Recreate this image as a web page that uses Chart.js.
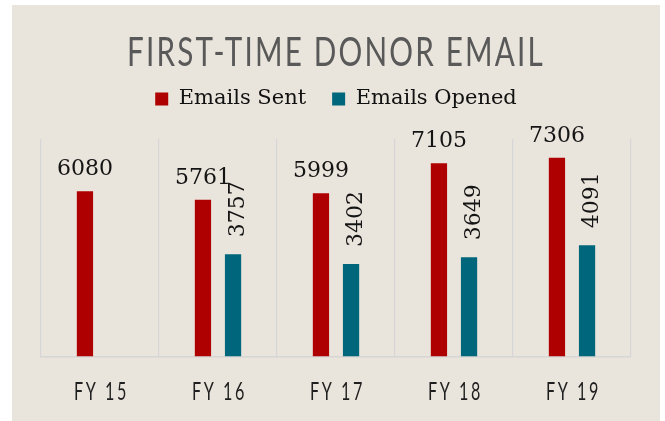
<!DOCTYPE html>
<html>
<head>
<meta charset="utf-8">
<script src="https://cdn.jsdelivr.net/npm/chart.js@4"></script>
<style>
  body { margin: 0; background: #ffffff; }
  #panel { position: absolute; left: 12px; top: 5px; width: 648px; height: 416px; background: #EAE5DC; overflow: hidden; }
</style>
</head>
<body>
<div id="panel"><canvas id="myChart" width="648" height="416"></canvas></div>
<script>
'use strict';

// data
let categories = ['FY 15', 'FY 16', 'FY 17', 'FY 18', 'FY 19'];
let emailsSent = [6080, 5761, 5999, 7105, 7306];
let emailsOpened = [null, 3757, 3402, 3649, 4091];
let seriesNames = ['Emails Sent', 'Emails Opened'];
let chartTitle = 'FIRST-TIME DONOR EMAIL';

let redColor = '#AE0000';
let tealColor = '#00667B';
let serif = '"DejaVu Serif", "Liberation Serif", serif';
let sans = 'Lato, "Open Sans", sans-serif';

// value labels above the bars (second series is turned on its side)
const barLabels = {
  id: 'barLabels',
  afterDatasetsDraw(chart) {
    const ctx = chart.ctx;
    ctx.save();
    ctx.font = '22px ' + serif;
    ctx.fillStyle = '#141414';
    ctx.textBaseline = 'alphabetic';
    chart.getDatasetMeta(0).data.forEach((bar, i) => {
      if (emailsSent[i] == null) return;
      ctx.textAlign = 'center';
      ctx.fillText(String(emailsSent[i]), bar.x, bar.y - 16);
    });
    chart.getDatasetMeta(1).data.forEach((bar, i) => {
      if (emailsOpened[i] == null) return;
      ctx.save();
      ctx.translate(bar.x + 11, bar.y - 17);
      ctx.rotate(-Math.PI / 2);
      ctx.textAlign = 'left';
      ctx.fillText(String(emailsOpened[i]), 0, 0);
      ctx.restore();
    });
    ctx.restore();
  }
};

// condensed, spaced title and category labels
const tweaks = {
  id: 'tweaks',
  afterLayout(chart) {
    const tb = chart.titleBlock;
    if (tb && !tb._spaced) {
      const orig = tb.draw.bind(tb);
      tb.draw = function () {
        const ctx = chart.ctx;
        ctx.save();
        ctx.letterSpacing = '3px';
        ctx.font = 'normal 41px ' + sans;
        const w = ctx.measureText(chartTitle).width;
        const s = 418 / w;
        const cx = (tb.left + tb.right) / 2;
        ctx.translate(cx, 0);
        ctx.scale(s, 1);
        ctx.translate(-cx, 0);
        orig();
        ctx.letterSpacing = '0px';
        ctx.restore();
      };
      tb._spaced = true;
    }
    const xs = chart.scales.x;
    if (xs && !xs._spaced) {
      xs.drawLabels = function () {
        const ctx = chart.ctx;
        ctx.save();
        ctx.font = '25px ' + sans;
        ctx.fillStyle = '#1f1f1f';
        ctx.letterSpacing = '4px';
        ctx.textAlign = 'center';
        ctx.textBaseline = 'middle';
        const s = 55 / ctx.measureText('FY 18').width;
        const y = chart.chartArea.bottom + 36;
        xs.ticks.forEach((t, i) => {
          const x = xs.getPixelForTick(i);
          ctx.save();
          ctx.translate(x + 1.5, y);
          ctx.scale(s, 1);
          ctx.fillText(xs.getLabelForValue(t.value), 0, 0);
          ctx.restore();
        });
        ctx.letterSpacing = '0px';
        ctx.restore();
      };
      xs._spaced = true;
    }
  }
};

// extra room between legend and plot
const legendRoom = {
  id: 'legendRoom',
  beforeInit(chart) {
    const lg = chart.legend;
    if (lg) {
      const origFit = lg.fit.bind(lg);
      lg.fit = function () {
        origFit();
        this.height += 19.5;
      };
    }
  }
};

const data = {
  labels: categories,
  datasets: [{
    label: seriesNames[0],
    data: emailsSent,
    backgroundColor: redColor,
    borderWidth: 0,
    categoryPercentage: 0.51,
    barPercentage: 0.54
  }, {
    label: seriesNames[1],
    data: emailsOpened,
    backgroundColor: tealColor,
    borderWidth: 0,
    categoryPercentage: 0.51,
    barPercentage: 0.54
  }]
};

const config = {
  type: 'bar',
  data: data,
  options: {
    responsive: false,
    animation: false,
    layout: {
      padding: { left: 29, right: 29, top: 0, bottom: -8 }
    },
    plugins: {
      title: {
        display: true,
        text: chartTitle,
        color: '#595959',
        font: { family: sans, size: 41, weight: 'normal', lineHeight: 0.45 },
        padding: { top: 39, bottom: 0 }
      },
      legend: {
        display: true,
        labels: {
          color: '#111111',
          boxWidth: 13,
          boxHeight: 13,
          padding: 26,
          font: { family: serif, size: 21 }
        }
      },
      tooltip: { enabled: false }
    },
    scales: {
      x: {
        offset: true,
        grid: { display: true, offset: true, color: '#D6D6D6', lineWidth: 1.2, drawTicks: false },
        border: { display: true, color: '#D6D6D6', width: 1.5 },
        ticks: {
          color: '#262626',
          padding: 22.5,
          font: { family: sans, size: 23, lineHeight: 1.2 }
        }
      },
      y: {
        display: false,
        min: 0,
        max: 8000
      }
    }
  },
  plugins: [barLabels, tweaks, legendRoom]
};

const myChart = new Chart(
  document.getElementById('myChart'),
  config
);
</script>
</body>
</html>
